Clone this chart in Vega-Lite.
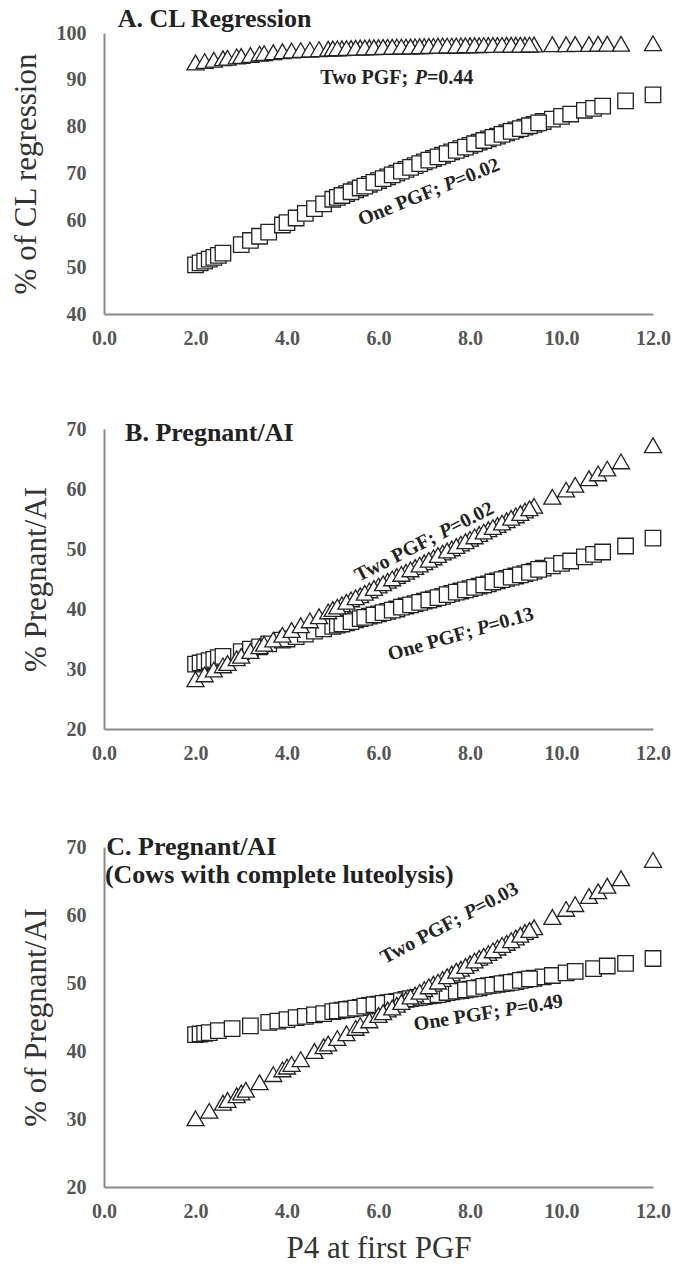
{
  "$schema": "https://vega.github.io/schema/vega-lite/v6.json",
  "padding": {"left": 9, "top": 5, "right": 8, "bottom": 5},
  "background": "white",
  "spacing": 71,
  "align": "none",
  "bounds": "full",
  "config": {
    "view": {"stroke": null},
    "font": "Liberation Serif",
    "axis": {
      "grid": false, "ticks": false, "domainColor": "#8a8a8a", "domainWidth": 2,
      "labelFont": "Liberation Serif", "labelFontSize": 20, "labelFontWeight": "bold", "labelColor": "#555",
      "titleFont": "Liberation Serif", "titleFontSize": 31, "titleFontWeight": "normal", "titleColor": "#333",
      "labelFlush": false, "labelOverlap": false
    }
  },
  "datasets": {
    "cl": [
      {"g":"One PGF","p4":2.0,"v":50.5},{"g":"One PGF","p4":2.1,"v":50.9},{"g":"One PGF","p4":2.2,"v":51.3},{"g":"One PGF","p4":2.3,"v":51.7},{"g":"One PGF","p4":2.4,"v":52.1},{"g":"One PGF","p4":2.5,"v":52.5},{"g":"One PGF","p4":2.6,"v":53.0},{"g":"One PGF","p4":3.0,"v":54.8},{"g":"One PGF","p4":3.2,"v":55.7},{"g":"One PGF","p4":3.4,"v":56.6},{"g":"One PGF","p4":3.6,"v":57.5},{"g":"One PGF","p4":3.9,"v":59.0},{"g":"One PGF","p4":4.0,"v":59.5},{"g":"One PGF","p4":4.2,"v":60.5},{"g":"One PGF","p4":4.4,"v":61.5},{"g":"One PGF","p4":4.6,"v":62.5},{"g":"One PGF","p4":4.8,"v":63.5},{"g":"One PGF","p4":5.0,"v":64.5},{"g":"One PGF","p4":5.3,"v":65.7},{"g":"One PGF","p4":5.5,"v":66.5},{"g":"One PGF","p4":5.8,"v":67.7},{"g":"One PGF","p4":6.0,"v":68.5},{"g":"One PGF","p4":6.2,"v":69.3},{"g":"One PGF","p4":6.4,"v":70.1},{"g":"One PGF","p4":6.6,"v":70.9},{"g":"One PGF","p4":6.8,"v":71.7},{"g":"One PGF","p4":7.0,"v":72.5},{"g":"One PGF","p4":7.2,"v":73.2},{"g":"One PGF","p4":7.4,"v":73.9},{"g":"One PGF","p4":7.6,"v":74.6},{"g":"One PGF","p4":7.8,"v":75.3},{"g":"One PGF","p4":8.0,"v":76.0},{"g":"One PGF","p4":8.2,"v":76.7},{"g":"One PGF","p4":8.4,"v":77.4},{"g":"One PGF","p4":8.6,"v":78.0},{"g":"One PGF","p4":8.8,"v":78.7},{"g":"One PGF","p4":9.0,"v":79.3},{"g":"One PGF","p4":9.2,"v":79.9},{"g":"One PGF","p4":9.4,"v":80.5},{"g":"One PGF","p4":9.6,"v":81.1},{"g":"One PGF","p4":9.8,"v":81.6},{"g":"One PGF","p4":10.0,"v":82.2},{"g":"One PGF","p4":10.2,"v":82.7},{"g":"One PGF","p4":10.5,"v":83.5},{"g":"One PGF","p4":10.7,"v":83.9},{"g":"One PGF","p4":10.9,"v":84.4},{"g":"One PGF","p4":11.4,"v":85.5},{"g":"One PGF","p4":12.0,"v":86.8},
      {"g":"One PGF","p4":5.1,"v":64.9},{"g":"One PGF","p4":5.2,"v":65.3},{"g":"One PGF","p4":5.4,"v":66.1},{"g":"One PGF","p4":5.6,"v":66.9},{"g":"One PGF","p4":5.7,"v":67.3},{"g":"One PGF","p4":5.9,"v":68.1},{"g":"One PGF","p4":6.1,"v":68.9},{"g":"One PGF","p4":6.3,"v":69.7},{"g":"One PGF","p4":6.5,"v":70.5},{"g":"One PGF","p4":6.7,"v":71.3},{"g":"One PGF","p4":6.9,"v":72.1},{"g":"One PGF","p4":7.1,"v":72.85},{"g":"One PGF","p4":7.3,"v":73.55},{"g":"One PGF","p4":7.5,"v":74.25},{"g":"One PGF","p4":7.7,"v":74.95},{"g":"One PGF","p4":7.9,"v":75.65},{"g":"One PGF","p4":8.1,"v":76.35},{"g":"One PGF","p4":8.3,"v":77.05},{"g":"One PGF","p4":8.5,"v":77.7},{"g":"One PGF","p4":8.7,"v":78.35},{"g":"One PGF","p4":8.9,"v":79.0},{"g":"One PGF","p4":9.1,"v":79.6},{"g":"One PGF","p4":9.3,"v":80.2},{"g":"One PGF","p4":9.5,"v":80.8},
      {"g":"Two PGF","p4":2.0,"v":93.7},{"g":"Two PGF","p4":2.2,"v":94.0},{"g":"Two PGF","p4":2.4,"v":94.3},{"g":"Two PGF","p4":2.6,"v":94.6},{"g":"Two PGF","p4":2.7,"v":94.7},{"g":"Two PGF","p4":2.9,"v":95.0},{"g":"Two PGF","p4":3.0,"v":95.1},{"g":"Two PGF","p4":3.2,"v":95.3},{"g":"Two PGF","p4":3.4,"v":95.6},{"g":"Two PGF","p4":3.5,"v":95.7},{"g":"Two PGF","p4":3.7,"v":95.9},{"g":"Two PGF","p4":3.9,"v":96.1},{"g":"Two PGF","p4":4.1,"v":96.25},{"g":"Two PGF","p4":4.3,"v":96.35},{"g":"Two PGF","p4":4.5,"v":96.45},{"g":"Two PGF","p4":4.7,"v":96.55},{"g":"Two PGF","p4":4.9,"v":96.65},{"g":"Two PGF","p4":5.0,"v":96.7},{"g":"Two PGF","p4":5.2,"v":96.75},{"g":"Two PGF","p4":5.4,"v":96.8},{"g":"Two PGF","p4":5.6,"v":96.9},{"g":"Two PGF","p4":5.8,"v":96.95},{"g":"Two PGF","p4":6.0,"v":97.0},{"g":"Two PGF","p4":6.2,"v":97.05},{"g":"Two PGF","p4":6.4,"v":97.1},{"g":"Two PGF","p4":6.6,"v":97.1},{"g":"Two PGF","p4":6.8,"v":97.15},{"g":"Two PGF","p4":7.0,"v":97.2},{"g":"Two PGF","p4":7.2,"v":97.25},{"g":"Two PGF","p4":7.4,"v":97.3},{"g":"Two PGF","p4":7.6,"v":97.3},{"g":"Two PGF","p4":7.8,"v":97.35},{"g":"Two PGF","p4":8.0,"v":97.4},{"g":"Two PGF","p4":8.2,"v":97.4},{"g":"Two PGF","p4":8.4,"v":97.45},{"g":"Two PGF","p4":8.6,"v":97.45},{"g":"Two PGF","p4":8.8,"v":97.5},{"g":"Two PGF","p4":9.0,"v":97.5},{"g":"Two PGF","p4":9.2,"v":97.5},{"g":"Two PGF","p4":9.4,"v":97.55},{"g":"Two PGF","p4":9.8,"v":97.6},{"g":"Two PGF","p4":10.1,"v":97.6},{"g":"Two PGF","p4":10.3,"v":97.65},{"g":"Two PGF","p4":10.6,"v":97.65},{"g":"Two PGF","p4":10.8,"v":97.7},{"g":"Two PGF","p4":11.0,"v":97.7},{"g":"Two PGF","p4":11.3,"v":97.7},{"g":"Two PGF","p4":12.0,"v":97.8},
      {"g":"Two PGF","p4":5.1,"v":96.72},{"g":"Two PGF","p4":5.3,"v":96.78},{"g":"Two PGF","p4":5.5,"v":96.85},{"g":"Two PGF","p4":5.7,"v":96.92},{"g":"Two PGF","p4":5.9,"v":96.97},{"g":"Two PGF","p4":6.1,"v":97.02},{"g":"Two PGF","p4":6.3,"v":97.07},{"g":"Two PGF","p4":6.5,"v":97.1},{"g":"Two PGF","p4":6.7,"v":97.12},{"g":"Two PGF","p4":6.9,"v":97.17},{"g":"Two PGF","p4":7.1,"v":97.22},{"g":"Two PGF","p4":7.3,"v":97.27},{"g":"Two PGF","p4":7.5,"v":97.3},{"g":"Two PGF","p4":7.7,"v":97.32},{"g":"Two PGF","p4":7.9,"v":97.37},{"g":"Two PGF","p4":8.1,"v":97.4},{"g":"Two PGF","p4":8.3,"v":97.42},{"g":"Two PGF","p4":8.5,"v":97.45},{"g":"Two PGF","p4":8.7,"v":97.47},{"g":"Two PGF","p4":8.9,"v":97.5},{"g":"Two PGF","p4":9.1,"v":97.5},{"g":"Two PGF","p4":9.3,"v":97.52}
    ],
    "preg": [
      {"g":"One PGF","p4":2.0,"v":30.8},{"g":"One PGF","p4":2.1,"v":31.0},{"g":"One PGF","p4":2.2,"v":31.2},{"g":"One PGF","p4":2.3,"v":31.4},{"g":"One PGF","p4":2.4,"v":31.6},{"g":"One PGF","p4":2.5,"v":31.9},{"g":"One PGF","p4":2.6,"v":32.1},{"g":"One PGF","p4":3.0,"v":32.9},{"g":"One PGF","p4":3.2,"v":33.3},{"g":"One PGF","p4":3.4,"v":33.7},{"g":"One PGF","p4":3.6,"v":34.2},{"g":"One PGF","p4":3.9,"v":34.8},{"g":"One PGF","p4":4.0,"v":35.0},{"g":"One PGF","p4":4.2,"v":35.4},{"g":"One PGF","p4":4.4,"v":35.8},{"g":"One PGF","p4":4.6,"v":36.3},{"g":"One PGF","p4":4.8,"v":36.7},{"g":"One PGF","p4":5.0,"v":37.1},{"g":"One PGF","p4":5.3,"v":37.7},{"g":"One PGF","p4":5.5,"v":38.2},{"g":"One PGF","p4":5.8,"v":38.8},{"g":"One PGF","p4":6.0,"v":39.2},{"g":"One PGF","p4":6.2,"v":39.6},{"g":"One PGF","p4":6.4,"v":40.0},{"g":"One PGF","p4":6.6,"v":40.5},{"g":"One PGF","p4":6.8,"v":40.9},{"g":"One PGF","p4":7.0,"v":41.3},{"g":"One PGF","p4":7.2,"v":41.7},{"g":"One PGF","p4":7.4,"v":42.1},{"g":"One PGF","p4":7.6,"v":42.6},{"g":"One PGF","p4":7.8,"v":43.0},{"g":"One PGF","p4":8.0,"v":43.4},{"g":"One PGF","p4":8.2,"v":43.8},{"g":"One PGF","p4":8.4,"v":44.2},{"g":"One PGF","p4":8.6,"v":44.7},{"g":"One PGF","p4":8.8,"v":45.1},{"g":"One PGF","p4":9.0,"v":45.5},{"g":"One PGF","p4":9.2,"v":45.9},{"g":"One PGF","p4":9.4,"v":46.3},{"g":"One PGF","p4":9.6,"v":46.8},{"g":"One PGF","p4":9.8,"v":47.2},{"g":"One PGF","p4":10.0,"v":47.6},{"g":"One PGF","p4":10.2,"v":48.0},{"g":"One PGF","p4":10.5,"v":48.7},{"g":"One PGF","p4":10.7,"v":49.1},{"g":"One PGF","p4":10.9,"v":49.5},{"g":"One PGF","p4":11.4,"v":50.5},{"g":"One PGF","p4":12.0,"v":51.8},
      {"g":"One PGF","p4":5.1,"v":37.3},{"g":"One PGF","p4":5.2,"v":37.5},{"g":"One PGF","p4":5.4,"v":37.9},{"g":"One PGF","p4":5.6,"v":38.4},{"g":"One PGF","p4":5.7,"v":38.6},{"g":"One PGF","p4":5.9,"v":39.0},{"g":"One PGF","p4":6.1,"v":39.4},{"g":"One PGF","p4":6.3,"v":39.8},{"g":"One PGF","p4":6.5,"v":40.3},{"g":"One PGF","p4":6.7,"v":40.7},{"g":"One PGF","p4":6.9,"v":41.1},{"g":"One PGF","p4":7.1,"v":41.5},{"g":"One PGF","p4":7.3,"v":41.9},{"g":"One PGF","p4":7.5,"v":42.4},{"g":"One PGF","p4":7.7,"v":42.8},{"g":"One PGF","p4":7.9,"v":43.2},{"g":"One PGF","p4":8.1,"v":43.6},{"g":"One PGF","p4":8.3,"v":44.0},{"g":"One PGF","p4":8.5,"v":44.5},{"g":"One PGF","p4":8.7,"v":44.9},{"g":"One PGF","p4":8.9,"v":45.3},{"g":"One PGF","p4":9.1,"v":45.7},{"g":"One PGF","p4":9.3,"v":46.1},{"g":"One PGF","p4":9.5,"v":46.6},
      {"g":"Two PGF","p4":2.0,"v":28.3},{"g":"Two PGF","p4":2.2,"v":29.1},{"g":"Two PGF","p4":2.4,"v":29.9},{"g":"Two PGF","p4":2.6,"v":30.6},{"g":"Two PGF","p4":2.7,"v":31.0},{"g":"Two PGF","p4":2.9,"v":31.8},{"g":"Two PGF","p4":3.0,"v":32.2},{"g":"Two PGF","p4":3.2,"v":33.0},{"g":"Two PGF","p4":3.4,"v":33.8},{"g":"Two PGF","p4":3.5,"v":34.2},{"g":"Two PGF","p4":3.7,"v":34.9},{"g":"Two PGF","p4":3.9,"v":35.7},{"g":"Two PGF","p4":4.1,"v":36.5},{"g":"Two PGF","p4":4.3,"v":37.3},{"g":"Two PGF","p4":4.5,"v":38.1},{"g":"Two PGF","p4":4.7,"v":38.8},{"g":"Two PGF","p4":4.9,"v":39.6},{"g":"Two PGF","p4":5.0,"v":40.0},{"g":"Two PGF","p4":5.2,"v":40.8},{"g":"Two PGF","p4":5.4,"v":41.6},{"g":"Two PGF","p4":5.6,"v":42.3},{"g":"Two PGF","p4":5.8,"v":43.1},{"g":"Two PGF","p4":6.0,"v":43.9},{"g":"Two PGF","p4":6.2,"v":44.7},{"g":"Two PGF","p4":6.4,"v":45.5},{"g":"Two PGF","p4":6.6,"v":46.2},{"g":"Two PGF","p4":6.8,"v":47.0},{"g":"Two PGF","p4":7.0,"v":47.8},{"g":"Two PGF","p4":7.2,"v":48.6},{"g":"Two PGF","p4":7.4,"v":49.4},{"g":"Two PGF","p4":7.6,"v":50.1},{"g":"Two PGF","p4":7.8,"v":50.9},{"g":"Two PGF","p4":8.0,"v":51.7},{"g":"Two PGF","p4":8.2,"v":52.5},{"g":"Two PGF","p4":8.4,"v":53.3},{"g":"Two PGF","p4":8.6,"v":54.0},{"g":"Two PGF","p4":8.8,"v":54.8},{"g":"Two PGF","p4":9.0,"v":55.6},{"g":"Two PGF","p4":9.2,"v":56.4},{"g":"Two PGF","p4":9.4,"v":57.2},{"g":"Two PGF","p4":9.8,"v":58.7},{"g":"Two PGF","p4":10.1,"v":59.9},{"g":"Two PGF","p4":10.3,"v":60.7},{"g":"Two PGF","p4":10.6,"v":61.8},{"g":"Two PGF","p4":10.8,"v":62.6},{"g":"Two PGF","p4":11.0,"v":63.4},{"g":"Two PGF","p4":11.3,"v":64.6},{"g":"Two PGF","p4":12.0,"v":67.3},
      {"g":"Two PGF","p4":5.1,"v":40.4},{"g":"Two PGF","p4":5.3,"v":41.2},{"g":"Two PGF","p4":5.5,"v":41.95},{"g":"Two PGF","p4":5.7,"v":42.7},{"g":"Two PGF","p4":5.9,"v":43.5},{"g":"Two PGF","p4":6.1,"v":44.3},{"g":"Two PGF","p4":6.3,"v":45.1},{"g":"Two PGF","p4":6.5,"v":45.85},{"g":"Two PGF","p4":6.7,"v":46.6},{"g":"Two PGF","p4":6.9,"v":47.4},{"g":"Two PGF","p4":7.1,"v":48.2},{"g":"Two PGF","p4":7.3,"v":49.0},{"g":"Two PGF","p4":7.5,"v":49.75},{"g":"Two PGF","p4":7.7,"v":50.5},{"g":"Two PGF","p4":7.9,"v":51.3},{"g":"Two PGF","p4":8.1,"v":52.1},{"g":"Two PGF","p4":8.3,"v":52.9},{"g":"Two PGF","p4":8.5,"v":53.65},{"g":"Two PGF","p4":8.7,"v":54.4},{"g":"Two PGF","p4":8.9,"v":55.2},{"g":"Two PGF","p4":9.1,"v":56.0},{"g":"Two PGF","p4":9.3,"v":56.8}
    ],
    "lut": [
      {"g":"One PGF","p4":2.0,"v":42.4},{"g":"One PGF","p4":2.1,"v":42.5},{"g":"One PGF","p4":2.2,"v":42.6},{"g":"One PGF","p4":2.3,"v":42.7},{"g":"One PGF","p4":2.5,"v":43.0},{"g":"One PGF","p4":2.8,"v":43.3},{"g":"One PGF","p4":3.2,"v":43.7},{"g":"One PGF","p4":3.6,"v":44.2},{"g":"One PGF","p4":3.8,"v":44.4},{"g":"One PGF","p4":4.0,"v":44.6},{"g":"One PGF","p4":4.2,"v":44.9},{"g":"One PGF","p4":4.4,"v":45.1},{"g":"One PGF","p4":4.6,"v":45.3},{"g":"One PGF","p4":4.8,"v":45.5},{"g":"One PGF","p4":5.0,"v":45.8},{"g":"One PGF","p4":5.2,"v":46.0},{"g":"One PGF","p4":5.4,"v":46.2},{"g":"One PGF","p4":5.6,"v":46.4},{"g":"One PGF","p4":5.8,"v":46.7},{"g":"One PGF","p4":6.0,"v":46.9},{"g":"One PGF","p4":6.2,"v":47.1},{"g":"One PGF","p4":6.4,"v":47.3},{"g":"One PGF","p4":6.6,"v":47.6},{"g":"One PGF","p4":6.8,"v":47.8},{"g":"One PGF","p4":7.0,"v":48.0},{"g":"One PGF","p4":7.2,"v":48.2},{"g":"One PGF","p4":7.4,"v":48.4},{"g":"One PGF","p4":7.6,"v":48.7},{"g":"One PGF","p4":7.8,"v":48.9},{"g":"One PGF","p4":8.0,"v":49.1},{"g":"One PGF","p4":8.2,"v":49.3},{"g":"One PGF","p4":8.4,"v":49.6},{"g":"One PGF","p4":8.6,"v":49.8},{"g":"One PGF","p4":8.8,"v":50.0},{"g":"One PGF","p4":9.0,"v":50.2},{"g":"One PGF","p4":9.2,"v":50.5},{"g":"One PGF","p4":9.4,"v":50.7},{"g":"One PGF","p4":9.6,"v":50.9},{"g":"One PGF","p4":9.8,"v":51.1},{"g":"One PGF","p4":10.1,"v":51.5},{"g":"One PGF","p4":10.3,"v":51.7},{"g":"One PGF","p4":10.7,"v":52.1},{"g":"One PGF","p4":11.0,"v":52.5},{"g":"One PGF","p4":11.4,"v":52.9},{"g":"One PGF","p4":12.0,"v":53.6},
      {"g":"One PGF","p4":5.1,"v":45.9},{"g":"One PGF","p4":5.3,"v":46.1},{"g":"One PGF","p4":5.5,"v":46.3},{"g":"One PGF","p4":5.7,"v":46.6},{"g":"One PGF","p4":5.9,"v":46.8},{"g":"One PGF","p4":6.1,"v":47.0},{"g":"One PGF","p4":6.3,"v":47.2},{"g":"One PGF","p4":6.5,"v":47.4},{"g":"One PGF","p4":6.7,"v":47.7},{"g":"One PGF","p4":6.9,"v":47.9},{"g":"One PGF","p4":7.1,"v":48.1},{"g":"One PGF","p4":7.3,"v":48.3},{"g":"One PGF","p4":7.5,"v":48.6},{"g":"One PGF","p4":7.7,"v":48.8},{"g":"One PGF","p4":7.9,"v":49.0},{"g":"One PGF","p4":8.1,"v":49.2},{"g":"One PGF","p4":8.3,"v":49.5},{"g":"One PGF","p4":8.5,"v":49.7},{"g":"One PGF","p4":8.7,"v":49.9},{"g":"One PGF","p4":8.9,"v":50.1},{"g":"One PGF","p4":9.1,"v":50.4},{"g":"One PGF","p4":9.3,"v":50.6},
      {"g":"Two PGF","p4":2.0,"v":30.1},{"g":"Two PGF","p4":2.3,"v":31.2},{"g":"Two PGF","p4":2.6,"v":32.4},{"g":"Two PGF","p4":2.7,"v":32.8},{"g":"Two PGF","p4":2.9,"v":33.5},{"g":"Two PGF","p4":3.0,"v":33.9},{"g":"Two PGF","p4":3.1,"v":34.3},{"g":"Two PGF","p4":3.4,"v":35.4},{"g":"Two PGF","p4":3.7,"v":36.6},{"g":"Two PGF","p4":3.9,"v":37.3},{"g":"Two PGF","p4":4.0,"v":37.7},{"g":"Two PGF","p4":4.1,"v":38.1},{"g":"Two PGF","p4":4.3,"v":38.8},{"g":"Two PGF","p4":4.6,"v":40.0},{"g":"Two PGF","p4":4.8,"v":40.7},{"g":"Two PGF","p4":4.9,"v":41.1},{"g":"Two PGF","p4":5.1,"v":41.9},{"g":"Two PGF","p4":5.3,"v":42.6},{"g":"Two PGF","p4":5.5,"v":43.4},{"g":"Two PGF","p4":5.6,"v":43.8},{"g":"Two PGF","p4":5.8,"v":44.5},{"g":"Two PGF","p4":6.0,"v":45.3},{"g":"Two PGF","p4":6.2,"v":46.1},{"g":"Two PGF","p4":6.4,"v":46.8},{"g":"Two PGF","p4":6.6,"v":47.6},{"g":"Two PGF","p4":6.8,"v":48.3},{"g":"Two PGF","p4":7.0,"v":49.1},{"g":"Two PGF","p4":7.2,"v":49.9},{"g":"Two PGF","p4":7.4,"v":50.6},{"g":"Two PGF","p4":7.6,"v":51.4},{"g":"Two PGF","p4":7.8,"v":52.1},{"g":"Two PGF","p4":8.0,"v":52.9},{"g":"Two PGF","p4":8.2,"v":53.7},{"g":"Two PGF","p4":8.4,"v":54.4},{"g":"Two PGF","p4":8.6,"v":55.2},{"g":"Two PGF","p4":8.8,"v":55.9},{"g":"Two PGF","p4":9.0,"v":56.7},{"g":"Two PGF","p4":9.2,"v":57.5},{"g":"Two PGF","p4":9.4,"v":58.2},{"g":"Two PGF","p4":9.8,"v":59.7},{"g":"Two PGF","p4":10.1,"v":60.9},{"g":"Two PGF","p4":10.3,"v":61.6},{"g":"Two PGF","p4":10.6,"v":62.8},{"g":"Two PGF","p4":10.8,"v":63.5},{"g":"Two PGF","p4":11.0,"v":64.3},{"g":"Two PGF","p4":11.3,"v":65.4},{"g":"Two PGF","p4":12.0,"v":68.1},
      {"g":"Two PGF","p4":6.1,"v":45.7},{"g":"Two PGF","p4":6.3,"v":46.4},{"g":"Two PGF","p4":6.5,"v":47.2},{"g":"Two PGF","p4":6.7,"v":48.0},{"g":"Two PGF","p4":6.9,"v":48.7},{"g":"Two PGF","p4":7.1,"v":49.5},{"g":"Two PGF","p4":7.3,"v":50.2},{"g":"Two PGF","p4":7.5,"v":51.0},{"g":"Two PGF","p4":7.7,"v":51.8},{"g":"Two PGF","p4":7.9,"v":52.5},{"g":"Two PGF","p4":8.1,"v":53.3},{"g":"Two PGF","p4":8.3,"v":54.0},{"g":"Two PGF","p4":8.5,"v":54.8},{"g":"Two PGF","p4":8.7,"v":55.6},{"g":"Two PGF","p4":8.9,"v":56.3},{"g":"Two PGF","p4":9.1,"v":57.1},{"g":"Two PGF","p4":9.3,"v":57.8}
    ]
  },
  "vconcat": [
    {
      "width": 549, "height": 281,
      "encoding": {
        "x": {"field": "p4", "type": "quantitative", "scale": {"domain": [0, 12]}, "axis": {"values": [0,2,4,6,8,10,12], "format": ".1f", "title": null, "labelPadding": 14}},
        "y": {"field": "v", "type": "quantitative", "scale": {"domain": [40, 100]}, "axis": {"values": [40,50,60,70,80,90,100], "title": "% of CL regression", "labelPadding": 18, "titlePadding": 14}}
      },
      "layer": [
        {"data": {"name": "cl"}, "mark": {"type": "point", "filled": true, "fill": "white", "stroke": "#222", "strokeWidth": 1.3, "opacity": 1},
         "encoding": {
           "shape": {"field": "g", "type": "nominal", "scale": {"domain": ["One PGF", "Two PGF"], "range": ["square", "triangle-up"]}, "legend": null},
           "size": {"field": "g", "type": "ordinal", "scale": {"domain": ["One PGF", "Two PGF"], "range": [240, 290]}, "legend": null},
           "order": [{"field": "g", "type": "nominal"}, {"field": "p4", "type": "quantitative"}]}},
        {"data": {"values": [{"label": "A. CL Regression", "p4": 0.3, "v": 103}]}, "mark": {"type": "text", "align": "left", "baseline": "middle", "fontSize": 26, "fontWeight": "bold", "color": "#222"}, "encoding": {"text": {"field": "label"}}},
        {"data": {"values": [{"p4": 6.4, "v": 90.3}]}, "mark": {"type": "text", "text": "Two PGF;", "align": "left", "baseline": "middle", "dx": -76.5, "fontSize": 20, "fontWeight": "bold", "color": "#222"}, "encoding": {}},
        {"data": {"values": [{"p4": 6.4, "v": 90.3}]}, "mark": {"type": "text", "text": "P", "align": "left", "baseline": "middle", "dx": 17.9, "fontSize": 20, "fontWeight": "bold", "fontStyle": "italic", "color": "#222"}, "encoding": {}},
        {"data": {"values": [{"p4": 6.4, "v": 90.3}]}, "mark": {"type": "text", "text": "=0.44", "align": "left", "baseline": "middle", "dx": 30.1, "fontSize": 20, "fontWeight": "bold", "color": "#222"}, "encoding": {}},
        {"data": {"values": [{"p4": 7.1, "v": 66}]}, "mark": {"type": "text", "text": "One PGF;", "align": "left", "baseline": "middle", "angle": -22, "dx": -75.4, "fontSize": 20, "fontWeight": "bold", "color": "#222"}, "encoding": {}},
        {"data": {"values": [{"p4": 7.1, "v": 66}]}, "mark": {"type": "text", "text": "P", "align": "left", "baseline": "middle", "angle": -22, "dx": 16.8, "fontSize": 20, "fontWeight": "bold", "fontStyle": "italic", "color": "#222"}, "encoding": {}},
        {"data": {"values": [{"p4": 7.1, "v": 66}]}, "mark": {"type": "text", "text": "=0.02", "align": "left", "baseline": "middle", "angle": -22, "dx": 29.0, "fontSize": 20, "fontWeight": "bold", "color": "#222"}, "encoding": {}}
      ]
    },
    {
      "width": 549, "height": 300,
      "encoding": {
        "x": {"field": "p4", "type": "quantitative", "scale": {"domain": [0, 12]}, "axis": {"values": [0,2,4,6,8,10,12], "format": ".1f", "title": null, "labelPadding": 14}},
        "y": {"field": "v", "type": "quantitative", "scale": {"domain": [20, 70]}, "axis": {"values": [20,30,40,50,60,70], "title": "% Pregnant/AI", "labelPadding": 18, "titlePadding": 14}}
      },
      "layer": [
        {"data": {"name": "preg"}, "mark": {"type": "point", "filled": true, "fill": "white", "stroke": "#222", "strokeWidth": 1.3, "opacity": 1},
         "encoding": {
           "shape": {"field": "g", "type": "nominal", "scale": {"domain": ["One PGF", "Two PGF"], "range": ["square", "triangle-up"]}, "legend": null},
           "size": {"field": "g", "type": "ordinal", "scale": {"domain": ["One PGF", "Two PGF"], "range": [240, 290]}, "legend": null},
           "order": [{"field": "g", "type": "nominal"}, {"field": "p4", "type": "quantitative"}]}},
        {"data": {"values": [{"label": "B. Pregnant/AI", "p4": 0.46, "v": 69.3}]}, "mark": {"type": "text", "align": "left", "baseline": "middle", "fontSize": 26, "fontWeight": "bold", "color": "#222"}, "encoding": {"text": {"field": "label"}}},
        {"data": {"values": [{"p4": 7.0, "v": 51.2}]}, "mark": {"type": "text", "text": "Two PGF;", "align": "left", "baseline": "middle", "angle": -27, "dx": -76.5, "fontSize": 20, "fontWeight": "bold", "color": "#222"}, "encoding": {}},
        {"data": {"values": [{"p4": 7.0, "v": 51.2}]}, "mark": {"type": "text", "text": "P", "align": "left", "baseline": "middle", "angle": -27, "dx": 17.9, "fontSize": 20, "fontWeight": "bold", "fontStyle": "italic", "color": "#222"}, "encoding": {}},
        {"data": {"values": [{"p4": 7.0, "v": 51.2}]}, "mark": {"type": "text", "text": "=0.02", "align": "left", "baseline": "middle", "angle": -27, "dx": 30.1, "fontSize": 20, "fontWeight": "bold", "color": "#222"}, "encoding": {}},
        {"data": {"values": [{"p4": 7.8, "v": 35.8}]}, "mark": {"type": "text", "text": "One PGF;", "align": "left", "baseline": "middle", "angle": -16, "dx": -75.4, "fontSize": 20, "fontWeight": "bold", "color": "#222"}, "encoding": {}},
        {"data": {"values": [{"p4": 7.8, "v": 35.8}]}, "mark": {"type": "text", "text": "P", "align": "left", "baseline": "middle", "angle": -16, "dx": 16.8, "fontSize": 20, "fontWeight": "bold", "fontStyle": "italic", "color": "#222"}, "encoding": {}},
        {"data": {"values": [{"p4": 7.8, "v": 35.8}]}, "mark": {"type": "text", "text": "=0.13", "align": "left", "baseline": "middle", "angle": -16, "dx": 29.0, "fontSize": 20, "fontWeight": "bold", "color": "#222"}, "encoding": {}}
      ]
    },
    {
      "width": 549, "height": 340,
      "encoding": {
        "x": {"field": "p4", "type": "quantitative", "scale": {"domain": [0, 12]}, "axis": {"values": [0,2,4,6,8,10,12], "format": ".1f", "title": "P4 at first PGF", "labelPadding": 14, "titlePadding": 12}},
        "y": {"field": "v", "type": "quantitative", "scale": {"domain": [20, 70]}, "axis": {"values": [20,30,40,50,60,70], "title": "% of Pregnant/AI", "labelPadding": 18, "titlePadding": 14}}
      },
      "layer": [
        {"data": {"name": "lut"}, "mark": {"type": "point", "filled": true, "fill": "white", "stroke": "#222", "strokeWidth": 1.3, "opacity": 1},
         "encoding": {
           "shape": {"field": "g", "type": "nominal", "scale": {"domain": ["One PGF", "Two PGF"], "range": ["square", "triangle-up"]}, "legend": null},
           "size": {"field": "g", "type": "ordinal", "scale": {"domain": ["One PGF", "Two PGF"], "range": [240, 290]}, "legend": null},
           "order": [{"field": "g", "type": "nominal"}, {"field": "p4", "type": "quantitative"}]}},
        {"data": {"values": [{"label": "C. Pregnant/AI", "p4": 0.05, "v": 70}, {"label": "(Cows with complete luteolysis)", "p4": 0.02, "v": 65.9}]}, "mark": {"type": "text", "align": "left", "baseline": "middle", "fontSize": 26, "fontWeight": "bold", "color": "#222"}, "encoding": {"text": {"field": "label"}}},
        {"data": {"values": [{"p4": 7.55, "v": 58.8}]}, "mark": {"type": "text", "text": "Two PGF;", "align": "left", "baseline": "middle", "angle": -28, "dx": -76.5, "fontSize": 20, "fontWeight": "bold", "color": "#222"}, "encoding": {}},
        {"data": {"values": [{"p4": 7.55, "v": 58.8}]}, "mark": {"type": "text", "text": "P", "align": "left", "baseline": "middle", "angle": -28, "dx": 17.9, "fontSize": 20, "fontWeight": "bold", "fontStyle": "italic", "color": "#222"}, "encoding": {}},
        {"data": {"values": [{"p4": 7.55, "v": 58.8}]}, "mark": {"type": "text", "text": "=0.03", "align": "left", "baseline": "middle", "angle": -28, "dx": 30.1, "fontSize": 20, "fontWeight": "bold", "color": "#222"}, "encoding": {}},
        {"data": {"values": [{"p4": 8.4, "v": 45.6}]}, "mark": {"type": "text", "text": "One PGF;", "align": "left", "baseline": "middle", "angle": -9, "dx": -75.4, "fontSize": 20, "fontWeight": "bold", "color": "#222"}, "encoding": {}},
        {"data": {"values": [{"p4": 8.4, "v": 45.6}]}, "mark": {"type": "text", "text": "P", "align": "left", "baseline": "middle", "angle": -9, "dx": 16.8, "fontSize": 20, "fontWeight": "bold", "fontStyle": "italic", "color": "#222"}, "encoding": {}},
        {"data": {"values": [{"p4": 8.4, "v": 45.6}]}, "mark": {"type": "text", "text": "=0.49", "align": "left", "baseline": "middle", "angle": -9, "dx": 29.0, "fontSize": 20, "fontWeight": "bold", "color": "#222"}, "encoding": {}}
      ]
    }
  ]
}
